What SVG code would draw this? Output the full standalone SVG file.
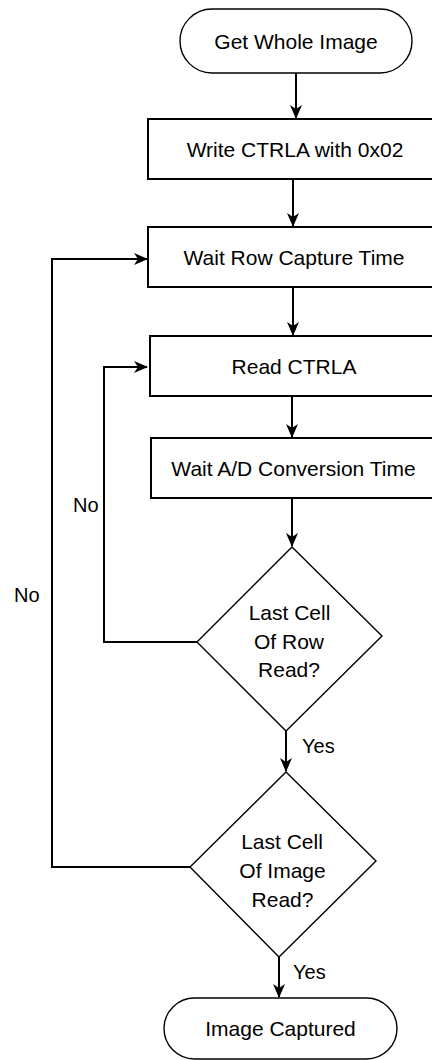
<svg xmlns="http://www.w3.org/2000/svg" width="432" height="1060" viewBox="0 0 432 1060">
  <style>
    .term { fill: #fff; stroke: #000; stroke-width: 1.4; }
    .box { fill: #fff; stroke: #000; stroke-width: 2; }
    .dec { fill: #fff; stroke: #000; stroke-width: 1.4; }
    .lbl { font-family: "Liberation Sans", Arial, sans-serif; font-size: 21px; fill: #000; text-anchor: middle; }
    .edge { fill: none; stroke: #000; stroke-width: 2; }
    .elbl { font-family: "Liberation Sans", Arial, sans-serif; font-size: 20px; fill: #000; }
  </style>
  <defs>
    <marker id="arrow" markerUnits="userSpaceOnUse" viewBox="0 0 14 12" refX="13" refY="6" markerWidth="14" markerHeight="12" orient="auto">
      <path d="M0,0 L14,6 L0,12 L4,6 Z" fill="#000"/>
    </marker>
  </defs>
  <rect width="432" height="1060" fill="#fff"/>

  <g id="connectors">
    <path class="edge" d="M296,73 L296,118" marker-end="url(#arrow)"/>
    <path class="edge" d="M293,179 L293,226" marker-end="url(#arrow)"/>
    <path class="edge" d="M293,287 L293,335" marker-end="url(#arrow)"/>
    <path class="edge" d="M292,396 L292,437" marker-end="url(#arrow)"/>
    <path class="edge" d="M292,498 L292,546" marker-end="url(#arrow)"/>
    <path class="edge" d="M197,642 L104,642 L104,367 L147,367" marker-end="url(#arrow)"/>
    <path class="edge" d="M286,731 L286,771" marker-end="url(#arrow)"/>
    <path class="edge" d="M190,867 L52,867 L52,259 L147,259" marker-end="url(#arrow)"/>
    <path class="edge" d="M279,957 L279,997" marker-end="url(#arrow)"/>
    <text class="elbl" x="73" y="512">No</text>
    <text class="elbl" x="14" y="602">No</text>
    <text class="elbl" x="302" y="753">Yes</text>
    <text class="elbl" x="293" y="979">Yes</text>
  </g>

  <g id="start">
    <rect class="term" x="180" y="9" width="232" height="64" rx="32" ry="32"/>
    <text class="lbl" x="296" y="49">Get Whole Image</text>
  </g>

  <g id="write-ctrla">
    <rect class="box" x="148" y="119" width="292" height="60"/>
    <text class="lbl" x="295" y="157">Write CTRLA with 0x02</text>
  </g>

  <g id="wait-row">
    <rect class="box" x="148" y="227" width="292" height="60"/>
    <text class="lbl" x="294" y="265">Wait Row Capture Time</text>
  </g>

  <g id="read-ctrla">
    <rect class="box" x="150" y="336" width="290" height="60"/>
    <text class="lbl" x="294" y="374">Read CTRLA</text>
  </g>

  <g id="wait-ad">
    <rect class="box" x="151" y="438" width="289" height="60"/>
    <text class="lbl" x="293.5" y="476">Wait A/D Conversion Time</text>
  </g>

  <g id="row-done">
    <polygon class="dec" points="292,547 382,636 286,731 197,642"/>
    <text class="lbl" x="289.5" y="620">Last Cell</text>
    <text class="lbl" x="289" y="649">Of Row</text>
    <text class="lbl" x="289" y="677">Read?</text>
  </g>

  <g id="image-done">
    <polygon class="dec" points="286,772 376,861 279,957 190,867"/>
    <text class="lbl" x="282" y="849">Last Cell</text>
    <text class="lbl" x="282.5" y="878">Of Image</text>
    <text class="lbl" x="282.5" y="907">Read?</text>
  </g>

  <g id="end">
    <rect class="term" x="164" y="998" width="233" height="61" rx="30.5" ry="30.5"/>
    <text class="lbl" x="280.5" y="1036">Image Captured</text>
  </g>
</svg>
